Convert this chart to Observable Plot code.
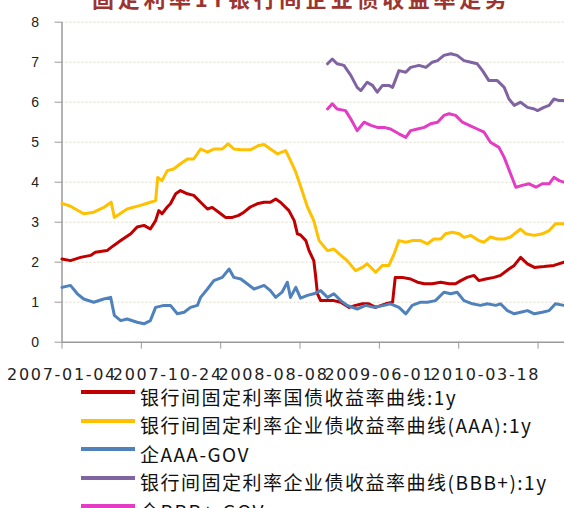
<!DOCTYPE html>
<html><head><meta charset="utf-8">
<script src="https://cdn.jsdelivr.net/npm/d3@7"></script>
<script src="https://cdn.jsdelivr.net/npm/@observablehq/plot@0.6"></script>
<style>
body{margin:0;background:#fff;width:564px;height:508px;overflow:hidden;position:relative;font-family:"Noto Sans CJK SC",sans-serif}
#title{position:absolute;left:92px;top:-14px;font-size:22px;line-height:22px;font-weight:bold;color:#9c3531;letter-spacing:3.7px;white-space:nowrap}
#chart{position:absolute;left:0;top:0}
#legend{position:absolute;left:0;top:0;width:564px;height:508px}
.sw{position:absolute;left:81px;width:54px;height:4px}
.lab{position:absolute;left:140px;font-size:19px;line-height:19px;letter-spacing:1.5px;color:#111;white-space:nowrap}
#chart g[aria-label="x-axis tick label"] text{letter-spacing:1.7px}
</style>
</head><body>
<div id="title"></div>
<div id="chart"></div>
<div id="legend"></div>
<script>
const titleText = "固定利率1Y银行间企业债收益率走势";
const seriesNames = ["银行间固定利率国债收益率曲线:1y","银行间固定利率企业债收益率曲线(AAA):1y","企AAA-GOV","银行间固定利率企业债收益率曲线(BBB+):1y","企BBB+-GOV"];
const seriesColors = ["#c00000","#ffc000","#4f81bd","#8064a2","#e43cc4"];
const xTickIdx = [0,150,300,450,600,750,900];
const xLabelIdx = [0,200,400,600,800];
const xLabels = ["2007-01-04","2007-10-24","2008-08-08","2009-06-01","2010-03-18"];
const yTicks = [0,1,2,3,4,5,6,7,8];

// trading-day index / value pairs
const govIdx = [0,16,35,54,63,85,98,111,130,142,155,167,177,183,189,199,205,215,224,237,249,262,275,284,300,309,322,334,344,356,369,382,394,404,413,429,439,445,451,461,467,476,479,483,489,502,514,527,543,555,568,580,593,612,625,630,643,659,672,685,700,716,732,744,754,766,779,788,801,817,829,845,855,867,880,893,911,930,949];
const govVal = [2.08,2.04,2.12,2.17,2.25,2.29,2.42,2.54,2.71,2.88,2.92,2.83,3.04,3.29,3.21,3.38,3.46,3.71,3.79,3.71,3.67,3.5,3.33,3.37,3.21,3.12,3.12,3.17,3.25,3.38,3.46,3.5,3.5,3.58,3.5,3.29,3.04,2.71,2.68,2.54,2.29,2.04,1.71,1.21,1.04,1.04,1.04,1.0,0.87,0.92,0.96,0.96,0.87,0.96,1.0,1.62,1.62,1.58,1.5,1.46,1.46,1.5,1.46,1.46,1.54,1.62,1.67,1.54,1.58,1.62,1.67,1.83,1.92,2.12,1.96,1.87,1.89,1.92,2.0];

const aaaIdx = [0,16,41,60,79,93,99,123,148,167,177,181,189,199,211,224,237,249,262,275,287,303,314,325,338,356,372,382,394,407,423,432,442,451,464,476,486,502,514,524,539,555,568,577,593,606,618,628,637,650,662,678,691,703,716,725,738,751,760,773,788,798,810,823,836,848,867,877,893,908,921,933,949];
const aaaVal = [3.47,3.4,3.21,3.25,3.37,3.5,3.12,3.33,3.42,3.5,3.54,4.12,4.04,4.29,4.33,4.46,4.58,4.58,4.83,4.75,4.83,4.83,4.96,4.83,4.81,4.81,4.92,4.94,4.83,4.71,4.79,4.54,4.25,3.9,3.38,3.04,2.54,2.29,2.33,2.21,2.04,1.79,1.87,1.96,1.75,1.92,1.92,2.21,2.54,2.5,2.54,2.54,2.46,2.58,2.58,2.71,2.75,2.71,2.62,2.67,2.54,2.5,2.63,2.58,2.58,2.63,2.83,2.71,2.67,2.71,2.79,2.96,2.96];

const aaaSpIdx = [0,16,29,41,60,79,92,99,111,123,142,155,167,177,193,205,218,231,243,256,262,275,287,303,316,325,338,350,363,382,394,404,416,426,432,442,451,464,476,489,502,514,527,539,558,574,590,609,621,637,650,662,678,691,706,722,735,747,760,776,791,804,820,829,842,855,867,880,893,908,921,933,949];
const aaaSpVal = [1.37,1.42,1.21,1.08,1.0,1.08,1.12,0.67,0.54,0.58,0.5,0.46,0.54,0.87,0.92,0.92,0.71,0.75,0.87,0.92,1.12,1.33,1.54,1.62,1.83,1.62,1.58,1.46,1.33,1.42,1.29,1.12,1.25,1.5,1.12,1.37,1.1,1.17,1.21,1.29,1.12,1.21,1.04,0.92,0.83,0.92,0.87,0.92,0.96,0.87,0.71,0.92,1.0,1.0,1.04,1.25,1.21,1.25,1.04,0.96,0.92,0.96,0.92,0.96,0.79,0.71,0.75,0.79,0.71,0.75,0.79,0.96,0.92];

const bbbIdx = [502,511,520,533,546,558,565,577,587,596,606,618,625,637,650,659,675,688,700,710,722,735,747,760,773,785,795,807,823,836,845,855,867,880,893,899,911,921,930,940,949];
const bbbVal = [6.96,7.08,6.96,6.92,6.67,6.37,6.29,6.5,6.42,6.25,6.42,6.42,6.37,6.79,6.75,6.87,6.92,6.87,7.0,7.04,7.17,7.21,7.17,7.04,7.0,6.96,6.79,6.54,6.54,6.37,6.08,5.92,6.0,5.87,5.83,5.79,5.87,5.92,6.08,6.04,6.04];

const bbbSpIdx = [502,511,520,536,546,558,571,584,596,609,621,637,650,659,672,685,697,710,722,732,744,757,770,785,798,810,826,836,848,858,870,883,896,908,921,930,940,949];
const bbbSpVal = [5.83,5.96,5.83,5.79,5.58,5.29,5.5,5.42,5.37,5.37,5.33,5.21,5.12,5.29,5.33,5.37,5.46,5.5,5.67,5.71,5.67,5.5,5.42,5.33,5.25,5.0,4.87,4.62,4.21,3.875,3.92,3.96,3.875,3.96,3.96,4.12,4.04,4.0];

const seriesIdx = [govIdx, aaaIdx, aaaSpIdx, bbbIdx, bbbSpIdx];
const seriesVal = [govVal, aaaVal, aaaSpVal, bbbVal, bbbSpVal];

document.getElementById("title").textContent = titleText;

const lineMarks = seriesIdx.map((idx, s) =>
  Plot.line(idx.map((x, i) => ({x, y: seriesVal[s][i]})), {
    x: "x", y: "y", stroke: seriesColors[s], strokeWidth: 3, strokeLinejoin: "round", strokeLinecap: "round"
  })
);

const chart = Plot.plot({
  width: 564, height: 390,
  marginLeft: 61.5, marginRight: 0, marginTop: 21.7, marginBottom: 48.3,
  x: {type: "linear", domain: [0, 950], axis: null},
  y: {domain: [0, 8], axis: null},
  style: {background: "transparent", overflow: "visible"},
  marks: [
    Plot.ruleY(yTicks.filter(d => d > 0), {stroke: "#dcdbc2", strokeDasharray: "2,2", strokeWidth: 1}),
    Plot.axisY({ticks: yTicks, label: null, tickSize: 7, tickPadding: 16, stroke: "#9a9a9a", fill: "#222",
      fontSize: 14, fontFamily: "Liberation Sans, Arial, sans-serif", tickFormat: d => String(d)}),
    Plot.axisX({ticks: xTickIdx, label: null, tickSize: 7, stroke: "#9a9a9a", tickFormat: () => ""}),
    Plot.axisX({ticks: xLabelIdx, label: null, tickSize: 0, tickPadding: 26, fill: "#222",
      fontSize: 16, fontFamily: "DejaVu Sans, sans-serif",
      tickFormat: d => xLabels[xLabelIdx.indexOf(d)]}),
    Plot.ruleX([0], {stroke: "#9a9a9a", strokeWidth: 1.5}),
    Plot.ruleY([0], {stroke: "#9a9a9a", strokeWidth: 1.5}),
    ...lineMarks
  ]
});
document.getElementById("chart").appendChild(chart);

const legendRowsY = [392, 420.6, 449, 477.5, 506];
const legend = document.getElementById("legend");
seriesNames.forEach((name, i) => {
  const sw = document.createElement("div");
  sw.className = "sw";
  sw.style.top = (legendRowsY[i] - 2) + "px";
  sw.style.background = seriesColors[i];
  legend.appendChild(sw);
  const lab = document.createElement("div");
  lab.className = "lab";
  lab.style.top = (legendRowsY[i] + 4 - 9.5) + "px";
  lab.textContent = name;
  legend.appendChild(lab);
});
</script>
</body></html>
